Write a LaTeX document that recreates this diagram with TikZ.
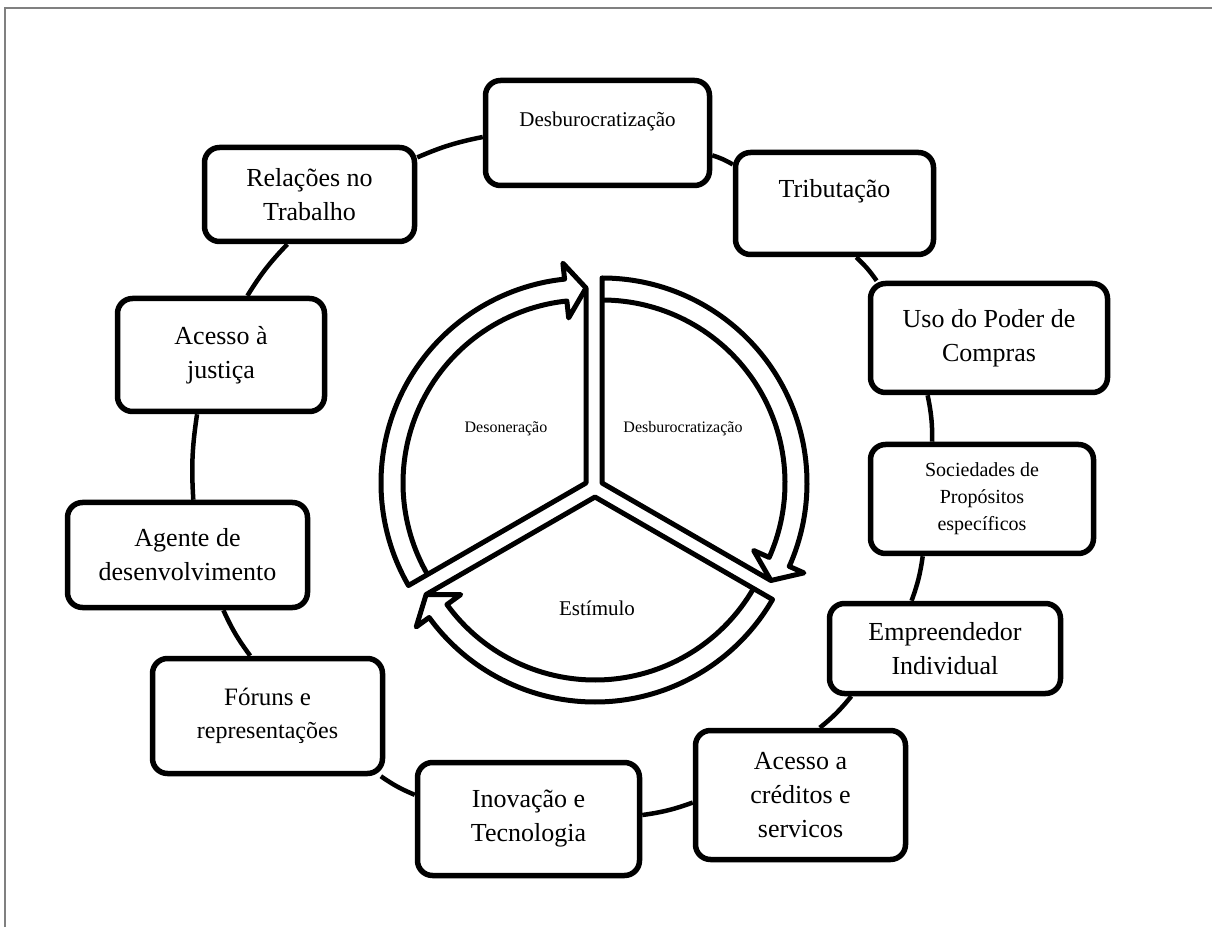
\documentclass[tikz,border=0pt]{standalone}
\usepackage{fontspec}
\setmainfont{Liberation Serif}
\pgfdeclarelayer{background}
\pgfsetlayers{background,main}
\newcommand\drawringseg[3]{%
  \begin{scope}[shift={(#1)}]
    \draw[ring] (0,0) -- (#2:205pt) arc[start angle=#2, end angle={#3+6}, radius=205pt]
      -- ({#3+6}:221pt) -- (#3:195pt) -- cycle;
    \draw[ring] (#3:195pt) -- ({#3+6}:166pt) -- ({#3+6}:183pt)
      arc[start angle={#3+6}, end angle=#2, radius=183pt];
  \end{scope}}
\begin{document}
\begin{tikzpicture}[x=1pt,y=1pt,
  box/.style={draw, line width=5.5pt, rounded corners=15pt, fill=white, align=center,
    inner sep=0pt, font=\fontsize{26}{34}\selectfont},
  conn/.style={line width=4.5pt, bend left=6},
  ring/.style={line width=5pt, line join=round},
  seglabel/.style={font=\fontsize{16}{19}\selectfont, inner sep=0pt},
  framec/.style={line width=1.5pt, black!50}]
\useasboundingbox (0,0) rectangle (1212,927);
\draw[framec] (5,0) -- (5,919) -- (1212,919);

% boxes
\node[box, minimum width=210pt, minimum height=94pt] (rel) at (309.5,732.5) {Relações no\\Trabalho};
\node[box, minimum width=224pt, minimum height=105pt, font=\fontsize{21}{26}\selectfont,
  text height=15pt, text depth=27pt] (desb) at (597.5,794) {Desburocratização};
\node[box, minimum width=198pt, minimum height=102pt, text height=18pt, text depth=30pt] (trib) at (834.5,723.5) {Tributação};
\node[box, minimum width=237pt, minimum height=109pt] (uso) at (989,589) {Uso do Poder de\\Compras};
\node[box, minimum width=223pt, minimum height=109pt, font=\fontsize{20}{27}\selectfont] (soc) at (982,428) {Sociedades de\\Propósitos\\específicos};
\node[box, minimum width=231pt, minimum height=90pt] (emp) at (945,278.5) {Empreendedor\\Individual};
\node[box, minimum width=210pt, minimum height=129pt] (cred) at (800.5,132) {Acesso a\\créditos e\\servicos};
\node[box, minimum width=222pt, minimum height=113pt] (inov) at (528.5,108) {Inovação e\\Tecnologia};
\node[box, minimum width=230pt, minimum height=115pt, font=\fontsize{25}{33}\selectfont] (forum) at (267.5,211) {Fóruns e\\{\fontsize{24}{33}\selectfont representações}};
\node[box, minimum width=240pt, minimum height=105pt] (agente) at (187.5,372) {Agente de\\desenvolvimento};
\node[box, minimum width=207pt, minimum height=113pt] (justica) at (221,572) {Acesso à\\justiça};

% connectors (under the boxes)
\begin{pgfonlayer}{background}
\draw[conn] (rel.19) to (desb.182);
\draw[conn] (desb.349) to (trib.159);
\draw[conn] (trib.292) to (uso.153);
\draw[conn] (uso.223) to (soc.131);
\draw[conn] (soc.224) to (emp.125);
\draw[conn] (emp.207) to (cred.74);
\draw[conn] (cred.184) to (inov.2);
\draw[conn] (inov.168) to (forum.332);
\draw[conn] (forum.106) to (agente.303);
\draw[conn] (agente.84) to (justica.248);
\draw[conn] (justica.66) to (rel.246);
\end{pgfonlayer}

% central segmented cycle
\coordinate (J1) at (586,444);
\coordinate (J2) at (602,444);
\coordinate (J3) at (595,430);
\drawringseg{J1}{210}{90}
\drawringseg{J2}{90}{-30}
\drawringseg{J3}{330}{210}
\node[seglabel] (tdeson) at (506,498) {Desoneração};
\node[seglabel] (tdesbur) at (683,498) {Desburocratização};
\node[font=\fontsize{21}{25}\selectfont, inner sep=0pt] (testim) at (597,319) {Estímulo};
\end{tikzpicture}
\end{document}
